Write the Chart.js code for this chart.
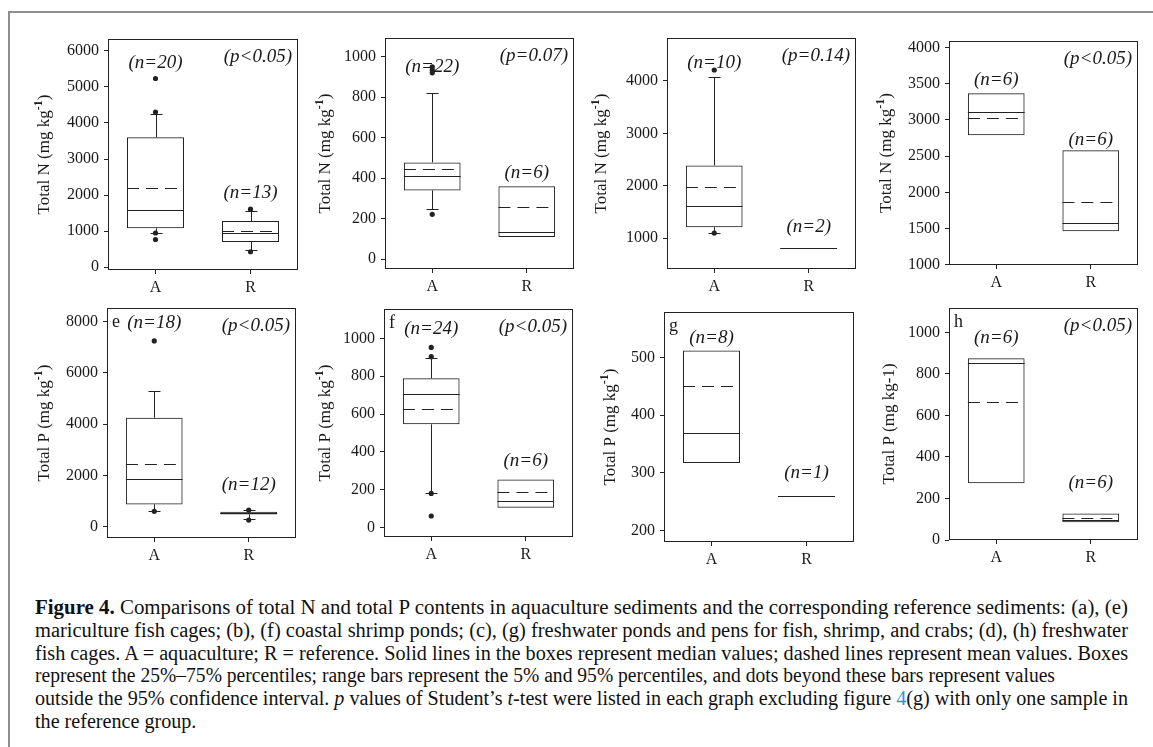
<!DOCTYPE html>
<html>
<head>
<meta charset="utf-8">
<title>Figure 4</title>
<script src="https://cdn.jsdelivr.net/npm/chart.js@4.4.0/dist/chart.umd.min.js"></script>
<style>
    html, body { margin: 0; padding: 0; background: #fff; }
    #fig { position: relative; width: 1153px; height: 747px; overflow: hidden; background: #fff; }
    #fig canvas { position: absolute; }
    .frame-top { position: absolute; left: 8px; top: 11px; width: 1145px; height: 2px; background: #8f8f8f; }
    .frame-left { position: absolute; left: 8px; top: 11px; width: 2px; height: 736px; background: #8f8f8f; }
    #caption { position: absolute; left: 35px; top: 596px; font-family: 'Liberation Serif', 'Times New Roman', serif;
               font-size: 20px; line-height: 22.8px; color: #111; }
    #caption .ln { white-space: nowrap; transform-origin: 0 0; }
    #caption .ln span { display: inline-block; }
    #caption .lnk { color: #3b8fd3; }
</style>
</head>
<body>
<div id="fig">
    <div class="frame-top"></div>
    <div class="frame-left"></div>
    <div id="caption">
        <div class="ln"><span><b>Figure 4.</b> Comparisons of total N and total P contents in aquaculture sediments and the corresponding reference sediments: (a), (e)</span></div>
        <div class="ln"><span>mariculture fish cages; (b), (f) coastal shrimp ponds; (c), (g) freshwater ponds and pens for fish, shrimp, and crabs; (d), (h) freshwater</span></div>
        <div class="ln"><span>fish cages. A = aquaculture; R = reference. Solid lines in the boxes represent median values; dashed lines represent mean values. Boxes</span></div>
        <div class="ln"><span>represent the 25%–75% percentiles; range bars represent the 5% and 95% percentiles, and dots beyond these bars represent values</span></div>
        <div class="ln"><span>outside the 95% confidence interval. <i>p</i> values of Student’s <i>t</i>-test were listed in each graph excluding figure <span class="lnk">4</span>(g) with only one sample in</span></div>
        <div class="ln"><span>the reference group.</span></div>
    </div>
</div>
<script>
    'use strict';

    // ------------------------------------------------------- //
    // Data (panels a-h, each with categories A and R)
    // ------------------------------------------------------ //

    var categories = ['A', 'R'];

    // axis title: [text, superscript, closing text]
    var yTitles = [
        ['Total N (mg kg', '-1', ')'], ['Total N (mg kg', '-1', ')'], ['Total N (mg kg', '-1', ')'], ['Total N (mg kg', '-1', ')'],
        ['Total P (mg kg', '-1', ')'], ['Total P (mg kg', '-1', ')'], ['Total P (mg kg', '-1', ')'], ['Total P (mg kg-1)', '', '']
    ];
    var panelLetters = ['', '', '', '', 'e', 'f', 'g', 'h'];
    var nLabels = [['(n=20)', '(n=13)'], ['(n=22)', '(n=6)'], ['(n=10)', '(n=2)'], ['(n=6)', '(n=6)'],
                   ['(n=18)', '(n=12)'], ['(n=24)', '(n=6)'], ['(n=8)', '(n=1)'], ['(n=6)', '(n=6)']];
    var pLabels = ['(p<0.05)', '(p=0.07)', '(p=0.14)', '(p<0.05)', '(p<0.05)', '(p<0.05)', '', '(p<0.05)'];

    var q1 = [[1080, 700], [340, 110], [1210, 810], [2790, 1460], [870, 480], [546, 106], [317, 260], [273, 85]];
    var q3 = [[3600, 1280], [478, 360], [2390, 810], [3370, 2580], [4250, 580], [789, 254], [512, 260], [875, 128]];
    var medians = [[1600, 960], [410, 133], [1625, 810], [3105, 1570], [1860, 520], [706, 143], [369, 260], [850, 96]];
    var means = [[2210, 1000], [445, 260], [1970, 810], [3030, 1865], [2440, 545], [628, 188], [450, 260], [665, 104]];
    var whiskerLow = [[940, 470], [247, null], [1100, null], [null, null], [600, 290], [181, null], [null, null], [null, null]];
    var whiskerHigh = [[4240, 1560], [820, null], [4075, null], [null, null], [5300, 640], [894, null], [null, null], [null, null]];
    var outliersA = [[5230, 4300, 950, 770], [950, 935, 920, 222], [4210, 1100], [], [7250, 600], [952, 903, 181, 62], [], []];
    var outliersR = [[1610, 430], [], [], [], [650, 260], [], [], []];

    var yMin = [-75, -48, 414, 995, -441, -49, 180, 0];
    var yMax = [6325, 1092, 4820, 4092, 8534, 1155, 579, 1117];
    var yTicks = [
        [0, 1000, 2000, 3000, 4000, 5000, 6000],
        [0, 200, 400, 600, 800, 1000],
        [1000, 2000, 3000, 4000],
        [1000, 1500, 2000, 2500, 3000, 3500, 4000],
        [0, 2000, 4000, 6000, 8000],
        [0, 200, 400, 600, 800, 1000],
        [200, 300, 400, 500],
        [0, 200, 400, 600, 800, 1000]
    ];

    // ------------------------------------------------------- //
    // Layout (plot frames in page pixels, label placement)
    // ------------------------------------------------------ //

    var plotBoxes = [
        [108, 39, 298, 270], [385, 38, 574, 269], [667, 38, 856, 269], [949, 41, 1138, 265],
        [107, 308, 296, 538], [384, 309, 573, 537], [664, 312, 854, 542], [949, 308, 1138, 540]
    ];
    var titleX = [45, 326, 602, 887, 45, 326, 611, 890];
    // n labels sit at these y values of each panel's own axis
    var nLabelAt = [[5650, 2060], [950, 426], [4343, 1214], [3556, 2730], [7949, 1627], [1050, 352], [534, 300], [973, 274]];
    var captionWidths = [1093, 1093, 1093, 1020, 1093, null];

    var FONT = "'Liberation Serif', 'Times New Roman', serif";
    var LINE = '#222';
    var TEXT = '#1a1a1a';
    var PAD = 16, XH = 30, TITLE_SIZE = 17, CAP = 12;

    Chart.defaults.font.family = FONT;
    Chart.defaults.color = TEXT;

    // ------------------------------------------------------- //
    // Caption: each line squeezed to its width in the figure
    // ------------------------------------------------------ //

    var lines = document.querySelectorAll('#caption .ln');
    var lastScale = 1;
    lines.forEach(function (ln, k) {
        var w = ln.querySelector('span').getBoundingClientRect().width;
        var s = captionWidths[k] ? captionWidths[k] / w : lastScale;
        ln.style.transform = 'scaleX(' + s + ')';
        lastScale = s;
    });

    // ------------------------------------------------------- //
    // Box plot extras: median, mean, whiskers, frame, labels
    // ------------------------------------------------------ //

    function hline(ctx, x0, x1, py, dash) {
        var yy = Math.round(py) + 0.5;
        ctx.setLineDash(dash);
        ctx.beginPath();
        ctx.moveTo(x0, yy);
        ctx.lineTo(x1, yy);
        ctx.stroke();
    }

    function whisker(ctx, px, fromPx, toPx) {
        var xx = Math.round(px) + 0.5;
        var cy = Math.round(toPx) + 0.5;
        ctx.setLineDash([]);
        ctx.beginPath();
        ctx.moveTo(xx, fromPx);
        ctx.lineTo(xx, cy);
        ctx.moveTo(xx - CAP / 2, cy);
        ctx.lineTo(xx + CAP / 2, cy);
        ctx.stroke();
    }

    var boxExtras = {
        id: 'boxExtras',
        afterDatasetsDraw: function (chart, args, opts) {
            var i = opts.panel;
            var ctx = chart.ctx;
            var y = chart.scales.y;
            var bars = chart.getDatasetMeta(0).data;
            ctx.save();
            ctx.strokeStyle = LINE;
            ctx.lineWidth = 1;
            bars.forEach(function (bar, j) {
                var p = bar.getProps(['x', 'width'], true);
                var x0 = p.x - p.width / 2, x1 = p.x + p.width / 2;
                if (whiskerHigh[i][j] !== null) {
                    whisker(ctx, p.x, y.getPixelForValue(q3[i][j]), y.getPixelForValue(whiskerHigh[i][j]));
                }
                if (whiskerLow[i][j] !== null) {
                    whisker(ctx, p.x, y.getPixelForValue(q1[i][j]), y.getPixelForValue(whiskerLow[i][j]));
                }
                hline(ctx, x0, x1, y.getPixelForValue(means[i][j]), [12, 7]);
                hline(ctx, x0, x1, y.getPixelForValue(medians[i][j]), []);
            });
            ctx.restore();
        },
        afterDraw: function (chart, args, opts) {
            var i = opts.panel;
            var ctx = chart.ctx;
            var a = chart.chartArea;
            var x = chart.scales.x, y = chart.scales.y;
            ctx.save();
            ctx.strokeStyle = LINE;
            ctx.lineWidth = 1;
            ctx.setLineDash([]);
            ctx.strokeRect(Math.round(a.left) + 0.5, Math.round(a.top) + 0.5,
                Math.round(a.right - a.left) - 1, Math.round(a.bottom - a.top) - 1);

            ctx.fillStyle = TEXT;
            ctx.font = 'italic 19px ' + FONT;
            ctx.textAlign = 'center';
            ctx.textBaseline = 'middle';
            categories.forEach(function (c, j) {
                ctx.fillText(nLabels[i][j], x.getPixelForValue(j), y.getPixelForValue(nLabelAt[i][j]));
            });
            if (pLabels[i]) {
                ctx.textAlign = 'right';
                ctx.fillText(pLabels[i], a.right - 6, a.top + 18);
            }
            if (panelLetters[i]) {
                ctx.font = '18px ' + FONT;
                ctx.textAlign = 'left';
                ctx.textBaseline = 'alphabetic';
                ctx.fillText(panelLetters[i], a.left + 5, a.top + 19);
            }

            // y axis title with a raised exponent
            var t = yTitles[i];
            var baseFont = TITLE_SIZE + 'px ' + FONT;
            var supFont = 'bold 12px ' + FONT;
            ctx.font = baseFont;
            var w0 = ctx.measureText(t[0]).width, w2 = ctx.measureText(t[2]).width;
            ctx.font = supFont;
            var w1 = ctx.measureText(t[1]).width;
            var total = w0 + w1 + w2;
            ctx.translate(opts.titleX, (a.top + a.bottom) / 2);
            ctx.rotate(-Math.PI / 2);
            ctx.textAlign = 'left';
            ctx.textBaseline = 'middle';
            ctx.font = baseFont;
            ctx.fillText(t[0], -total / 2, 0);
            ctx.font = supFont;
            ctx.fillText(t[1], -total / 2 + w0, -6);
            ctx.font = baseFont;
            ctx.fillText(t[2], -total / 2 + w0 + w1, 0);
            ctx.restore();
        }
    };

    // ------------------------------------------------------- //
    // One chart per panel
    // ------------------------------------------------------ //

    var fig = document.getElementById('fig');

    plotBoxes.forEach(function (box, i) {
        var left = Math.round(titleX[i] - 14);
        var yw = box[0] - left;
        var canvas = document.createElement('canvas');
        canvas.width = yw + (box[2] - box[0]) + PAD;
        canvas.height = PAD + (box[3] - box[1]) + XH;
        canvas.style.left = left + 'px';
        canvas.style.top = (box[1] - PAD) + 'px';
        fig.appendChild(canvas);

        var points = [];
        outliersA[i].forEach(function (v) { points.push({x: categories[0], y: v}); });
        outliersR[i].forEach(function (v) { points.push({x: categories[1], y: v}); });

        new Chart(canvas, {
            type: 'bar',
            data: {
                labels: categories,
                datasets: [
                    {
                        type: 'bar',
                        data: categories.map(function (c, j) { return [q1[i][j], q3[i][j]]; }),
                        backgroundColor: 'rgba(0,0,0,0)',
                        borderColor: LINE,
                        borderWidth: 1,
                        borderSkipped: false,
                        barPercentage: 0.6,
                        categoryPercentage: 1
                    },
                    {
                        type: 'scatter',
                        data: points,
                        pointRadius: 2.6,
                        pointBackgroundColor: LINE,
                        backgroundColor: LINE,
                        pointBorderWidth: 0,
                        borderColor: LINE
                    }
                ]
            },
            options: {
                responsive: false,
                animation: false,
                events: [],
                layout: {padding: {top: PAD, right: PAD, left: 0, bottom: 0}},
                plugins: {
                    legend: {display: false},
                    tooltip: {enabled: false},
                    boxExtras: {panel: i, titleX: titleX[i] - left}
                },
                scales: {
                    x: {
                        type: 'category',
                        offset: true,
                        afterFit: function (s) { s.height = XH; },
                        grid: {offset: false, drawOnChartArea: false, drawTicks: true, tickLength: 4, color: LINE},
                        border: {display: false},
                        ticks: {color: TEXT, padding: 4, font: {family: FONT, size: 16}}
                    },
                    y: {
                        min: yMin[i],
                        max: yMax[i],
                        afterFit: function (s) { s.width = yw; },
                        afterBuildTicks: function (s) {
                            s.ticks = yTicks[i].map(function (v) { return {value: v}; });
                        },
                        grid: {drawOnChartArea: false, drawTicks: true, tickLength: 4, color: LINE},
                        border: {display: false},
                        ticks: {
                            color: TEXT, padding: 5, font: {family: FONT, size: 16},
                            callback: function (v) { return String(v); }
                        }
                    }
                }
            },
            plugins: [boxExtras]
        });
    });
</script>
</body>
</html>
